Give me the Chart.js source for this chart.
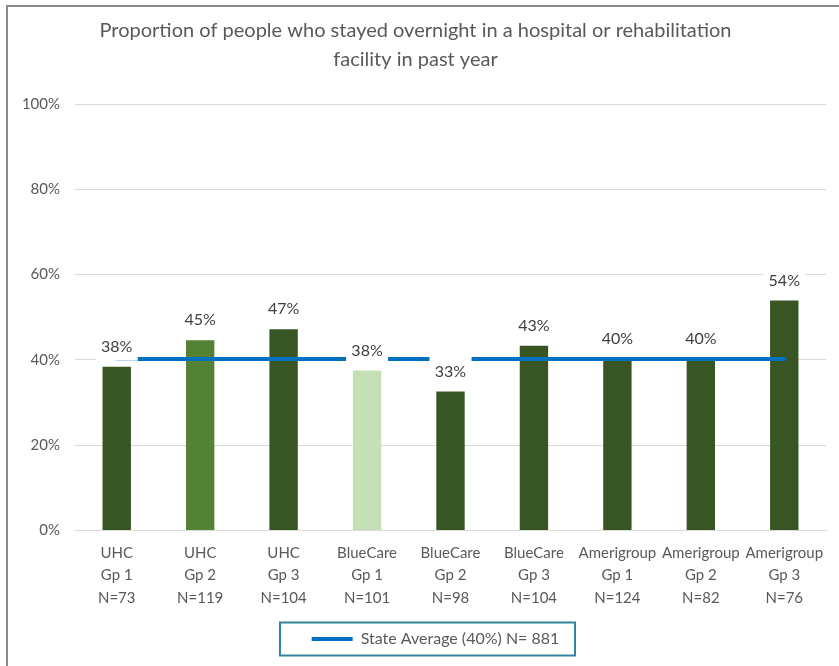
<!DOCTYPE html>
<html>
<head>
<meta charset="utf-8">
<script src="https://cdn.jsdelivr.net/npm/chart.js@4.4.1/dist/chart.umd.min.js"></script>
<style>
  html, body { margin: 0; padding: 0; background: #fff; }
  #wrap { position: relative; width: 839px; height: 666px; }
  #frame { position: absolute; left: 6px; top: 5px; right: 0; bottom: 0;
           border-left: 2px solid #8c8c8c; border-top: 2px solid #8c8c8c; }
  #c { position: absolute; left: 0; top: 0; }
</style>
</head>
<body>
<div id="wrap">
  <div id="frame"></div>
  <canvas id="c" width="839" height="666"></canvas>
</div>
<script>
// データ
var groups = [
  ['UHC', 'Gp 1', 'N=73'],
  ['UHC', 'Gp 2', 'N=119'],
  ['UHC', 'Gp 3', 'N=104'],
  ['BlueCare', 'Gp 1', 'N=101'],
  ['BlueCare', 'Gp 2', 'N=98'],
  ['BlueCare', 'Gp 3', 'N=104'],
  ['Amerigroup', 'Gp 1', 'N=124'],
  ['Amerigroup', 'Gp 2', 'N=82'],
  ['Amerigroup', 'Gp 3', 'N=76']
];
var stayedPct = [38.4, 44.6, 47.2, 37.5, 32.6, 43.3, 40.2, 40.3, 53.9];
var stateAvg = 40.2;
var stateLabel = 'State Average (40%) N= 881';
var titleLines = ['Proportion of people who stayed overnight in a hospital or rehabilitation',
                  'facility in past year'];

var barColors = ['#375623', '#548235', '#375623', '#C5E0B4', '#375623',
                 '#375623', '#375623', '#375623', '#375623'];
var FONT = 'Lato, "Open Sans", sans-serif';

// 棒の上のラベル（白背景）
var valueLabels = {
  id: 'valueLabels',
  afterDatasetsDraw: function(chart) {
    var ctx = chart.ctx;
    var meta = chart.getDatasetMeta(0);
    ctx.save();
    ctx.font = '16px ' + FONT;
    ctx.textAlign = 'center';
    ctx.textBaseline = 'middle';
    meta.data.forEach(function(bar, i) {
      var txt = Math.round(stayedPct[i]) + '%';
      var cy = bar.y - 20;
      ctx.fillStyle = '#ffffff';
      ctx.fillRect(bar.x - 21, cy - 16, 42, 30);
      ctx.fillStyle = '#404040';
      ctx.fillText(txt, bar.x, cy);
    });
    ctx.restore();
  }
};

// 凡例を右へずらして枠を描く
var legendFrame = {
  id: 'legendFrame',
  afterLayout: function(chart) {
    var lg = chart.legend;
    if (!lg) return;
    lg.left += 20;
    lg.right += 20;
  },
  afterDraw: function(chart) {
    var lg = chart.legend;
    if (!lg) return;
    var cy = lg.top + lg.height / 2;
    var ctx = chart.ctx;
    ctx.save();
    ctx.strokeStyle = '#31859C';
    ctx.lineWidth = 2;
    ctx.strokeRect(280, cy - 16.5, 295, 33);
    ctx.restore();
  }
};

var ctx = document.getElementById('c');
var chart = new Chart(ctx, {
  type: 'bar',
  data: {
    labels: groups,
    datasets: [
      {
        label: 'stayed',
        data: stayedPct,
        backgroundColor: barColors,
        barPercentage: 0.34,
        categoryPercentage: 1.0,
        order: 1
      },
      {
        type: 'line',
        label: stateLabel,
        data: groups.map(function() { return stateAvg; }),
        borderColor: '#0070C0',
        backgroundColor: '#0070C0',
        borderWidth: 4,
        borderCapStyle: 'round',
        pointRadius: 0,
        fill: false,
        order: 0
      }
    ]
  },
  options: {
    responsive: false,
    animation: false,
    layout: { padding: { left: 5, right: 13, top: 0, bottom: 9 } },
    plugins: {
      title: {
        display: true,
        text: titleLines,
        color: '#595959',
        font: { family: FONT, size: 20, weight: 'normal', lineHeight: 1.45 },
        padding: { top: 16, bottom: 30 }
      },
      legend: {
        position: 'bottom',
        labels: {
          filter: function(item) { return item.datasetIndex === 1; },
          usePointStyle: true,
          pointStyle: 'line',
          pointStyleWidth: 41,
          color: '#595959',
          font: { family: FONT, size: 16 },
          padding: 10
        }
      },
      tooltip: { enabled: false }
    },
    scales: {
      x: {
        afterFit: function(s) { s.height += 9; },
        grid: { display: false },
        border: { color: '#d9d9d9', width: 1 },
        ticks: {
          color: '#595959',
          font: { family: FONT, size: 15, lineHeight: 1.5 },
          padding: 3,
          maxRotation: 0,
          autoSkip: false
        }
      },
      y: {
        min: 0,
        max: 100,
        afterFit: function(s) { s.width = 70; },
        grid: { color: '#d9d9d9', lineWidth: 1, drawTicks: false },
        border: { display: false },
        ticks: {
          stepSize: 20,
          padding: 15,
          color: '#595959',
          font: { family: FONT, size: 15 },
          callback: function(v) { return v + '%'; }
        }
      }
    }
  },
  plugins: [valueLabels, legendFrame]
});
</script>
</body>
</html>
